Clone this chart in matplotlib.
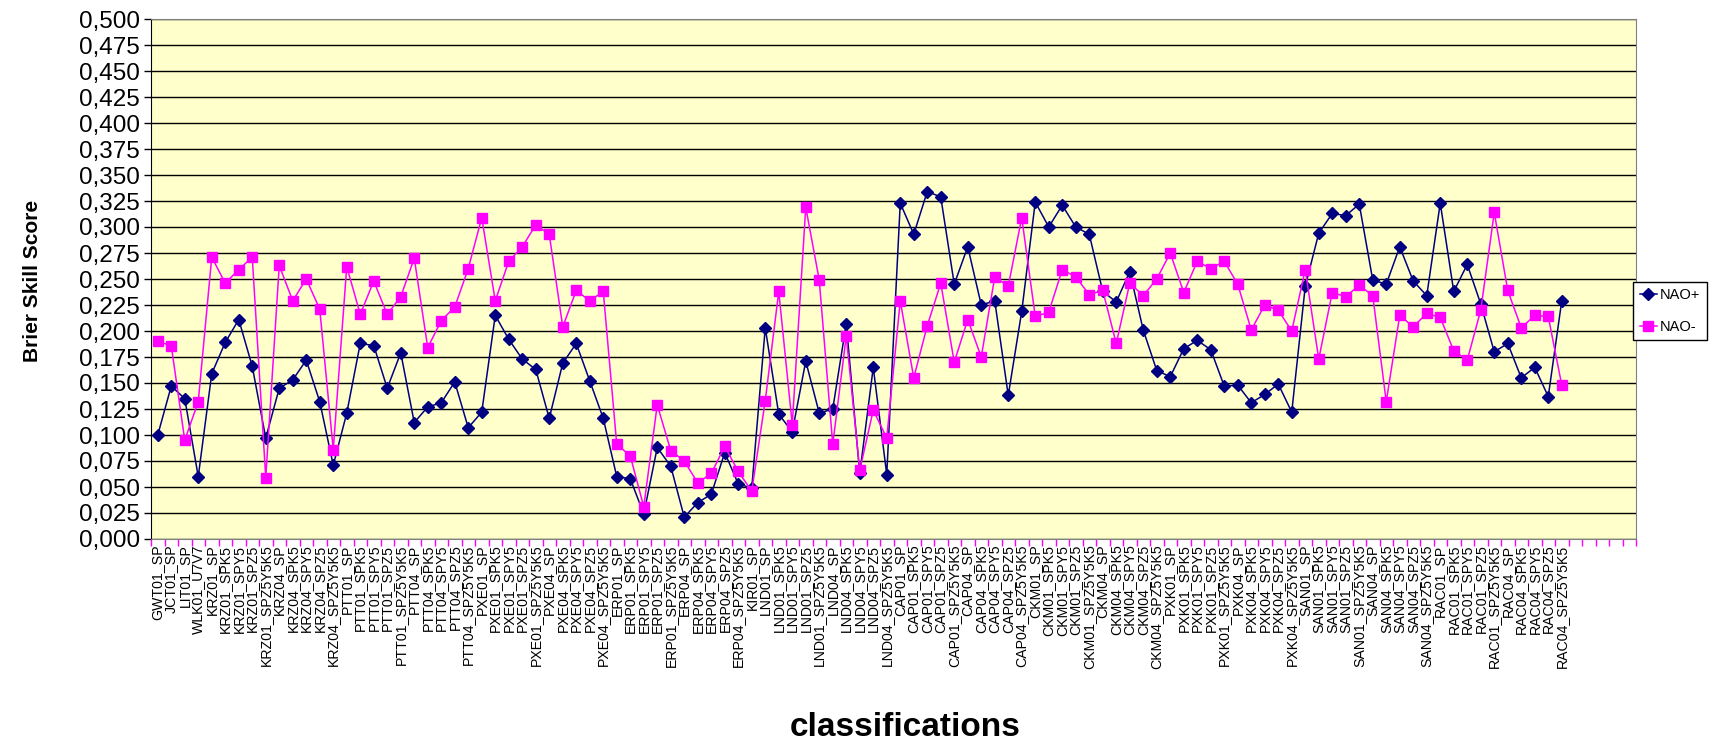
import numpy as np
import matplotlib
matplotlib.use("Agg")
import matplotlib.pyplot as plt
from matplotlib.ticker import FixedLocator, FuncFormatter

plt.rcParams["font.family"] = ["Liberation Sans", "DejaVu Sans"]

# classification names (x categories)
groups = ["KRZ", "PTT", "PXE", "ERP", "LND", "CAP", "CKM", "PXK", "SAN", "RAC"]
suffixes = ["SP", "SPK5", "SPY5", "SPZ5", "SPZ5Y5K5"]
labels = ["GWT01_SP", "JCT01_SP", "LIT01_SP", "WLK01_U7V7"]
for g in groups:
    for lev in ["01", "04"]:
        for s in suffixes:
            labels.append(f"{g}{lev}_{s}")
    if g == "ERP":
        labels.append("KIR01_SP")

nao_plus = [
    0.100, 0.147, 0.135, 0.060,
    0.159, 0.189, 0.211, 0.166, 0.097, 0.145, 0.153, 0.172, 0.132, 0.071,
    0.121, 0.188, 0.186, 0.145, 0.179, 0.112, 0.127, 0.131, 0.151, 0.107,
    0.122, 0.215, 0.192, 0.173, 0.163, 0.116, 0.169, 0.188, 0.152, 0.116,
    0.060, 0.058, 0.024, 0.088, 0.070, 0.021, 0.035, 0.043, 0.083, 0.053,
    0.049,
    0.203, 0.120, 0.103, 0.171, 0.121, 0.125, 0.207, 0.063, 0.165, 0.062,
    0.323, 0.293, 0.334, 0.329, 0.245, 0.281, 0.225, 0.229, 0.138, 0.219,
    0.324, 0.300, 0.321, 0.300, 0.293, 0.238, 0.228, 0.257, 0.201, 0.162,
    0.156, 0.183, 0.191, 0.182, 0.147, 0.148, 0.131, 0.139, 0.149, 0.122,
    0.243, 0.294, 0.313, 0.311, 0.322, 0.249, 0.245, 0.281, 0.248, 0.234,
    0.323, 0.238, 0.264, 0.226, 0.180, 0.188, 0.155, 0.165, 0.137, 0.229,
]
nao_minus = [
    0.190, 0.186, 0.095, 0.132,
    0.271, 0.246, 0.259, 0.271, 0.059, 0.263, 0.229, 0.250, 0.221, 0.086,
    0.262, 0.216, 0.248, 0.216, 0.233, 0.270, 0.184, 0.210, 0.223, 0.260,
    0.309, 0.229, 0.267, 0.281, 0.302, 0.293, 0.204, 0.239, 0.229, 0.238,
    0.091, 0.080, 0.031, 0.129, 0.085, 0.075, 0.054, 0.063, 0.089, 0.065,
    0.046,
    0.133, 0.238, 0.110, 0.319, 0.249, 0.091, 0.195, 0.066, 0.124, 0.097,
    0.229, 0.155, 0.205, 0.246, 0.170, 0.211, 0.175, 0.252, 0.243, 0.309,
    0.214, 0.218, 0.259, 0.252, 0.235, 0.239, 0.188, 0.246, 0.234, 0.250,
    0.275, 0.237, 0.267, 0.260, 0.267, 0.245, 0.201, 0.225, 0.220, 0.200,
    0.259, 0.173, 0.237, 0.233, 0.244, 0.234, 0.132, 0.215, 0.204, 0.217,
    0.213, 0.181, 0.172, 0.220, 0.314, 0.239, 0.203, 0.215, 0.214, 0.148,
]

n_slots = len(labels) + 5  # a few empty categories at the end of the axis
x = np.arange(len(labels))

fig = plt.figure(figsize=(17.09, 7.55), dpi=100)
ax = fig.add_axes([151 / 1709, 1 - 539 / 755, (1636 - 151) / 1709, (539 - 19) / 755])
ax.set_facecolor("#FFFFCC")

ax.plot(x, nao_plus, color="#000080", lw=1.1, marker="D", ms=6, mfc="#000080",
        mec="#000080", label="NAO+", zorder=3)
ax.plot(x, nao_minus, color="#FF00FF", lw=1.1, marker="s", ms=6.5, mfc="#FF00FF",
        mec="#FF00FF", label="NAO-", zorder=3)

ax.set_xlim(-0.5, n_slots - 0.5)
ax.set_ylim(0, 0.5)

yt = np.arange(0, 0.5001, 0.025)
ax.set_yticks(yt)
ax.yaxis.set_major_formatter(FuncFormatter(lambda v, p: f"{v:.3f}".replace(".", ",")))
ax.tick_params(axis="y", labelsize=17.5, length=5, width=1, color="black", pad=3)
ax.grid(axis="y", color="black", lw=1)
ax.set_axisbelow(True)

ax.set_xticks(x)
ax.set_xticklabels(labels, rotation=90, fontsize=10.2)
ax.tick_params(axis="x", which="major", length=0, pad=4)
ax.xaxis.set_minor_locator(FixedLocator(np.arange(-0.5, n_slots, 1.0)))
ax.tick_params(axis="x", which="minor", length=5, width=1, color="#FF00FF")

for side in ["top", "right"]:
    ax.spines[side].set_color("#808080")
ax.spines["bottom"].set_color("#808080")
ax.spines["left"].set_color("black")

fig.text(33 / 1709, 1 - 281 / 755, "Brier Skill Score", rotation=90, ha="center",
         va="center", fontsize=15, fontweight="bold")
fig.text(905 / 1709, 1 - 728 / 755, "classifications", ha="center",
         va="center", fontsize=24, fontweight="bold")

fig.legend(loc="center right", bbox_to_anchor=(1707 / 1709, 1 - 311 / 755), fontsize=10.5,
           frameon=True, fancybox=False, edgecolor="black", framealpha=1,
           borderpad=0.45, handlelength=1.2, labelspacing=1.2, handletextpad=0.2,
           borderaxespad=0)

fig.savefig("out.png", dpi=100)
